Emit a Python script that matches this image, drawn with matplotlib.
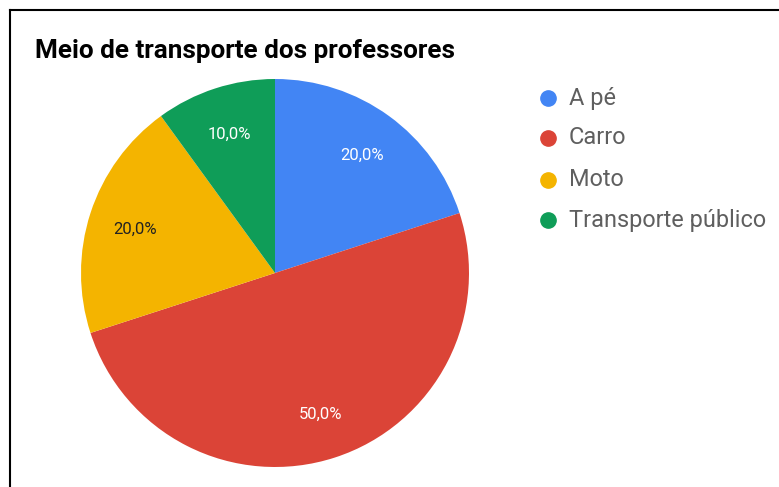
import matplotlib.pyplot as plt
from matplotlib.lines import Line2D

plt.rcParams['font.family'] = ['Roboto', 'DejaVu Sans']

title = 'Meio de transporte dos professores'
labels = ['A pé', 'Carro', 'Moto', 'Transporte público']
values = [20, 50, 20, 10]
colors = ['#4285F4', '#DB4437', '#F4B400', '#0F9D58']
pct_colors = ['white', 'white', '#222222', 'white']

W, H = 779, 487
fig = plt.figure(figsize=(W / 100, H / 100), dpi=100)

# pie axes, square in pixels
cx, cy, r = 275, 273, 194
ax = fig.add_axes([(cx - r) / W, (H - cy - r) / H, 2 * r / W, 2 * r / H])
wedges, texts, autotexts = ax.pie(values, colors=colors, startangle=90, counterclock=False,
                                  autopct=lambda p: f'{p:.1f}%'.replace('.', ','),
                                  pctdistance=0.76, radius=1.0,
                                  wedgeprops=dict(linewidth=0))
for t, c in zip(autotexts, pct_colors):
    t.set_color(c)
    t.set_fontsize(12)
    t.set_va('center_baseline')
ax.set_xlim(-1, 1)
ax.set_ylim(-1, 1)
ax.set_aspect('equal')
ax.axis('off')

fig.text(35 / W, 1 - 51 / H, title, fontsize=18.8, fontweight='bold', color='black',
         va='center', ha='left')

# legend
ys = [98, 138, 180, 220]
for lab, col, y in zip(labels, colors, ys):
    fig.add_artist(Line2D([548 / W], [1 - y / H], marker='o', markersize=11,
                          color=col, linestyle='none'))
    fig.text(569 / W, 1 - y / H, lab, fontsize=16.9, color='#5f5f5f',
             va='center', ha='left')

# frame (left and top edges visible)
fig.add_artist(Line2D([9.5 / W, 9.5 / W], [0, 1 - 10 / H], color='black', linewidth=1.5))
fig.add_artist(Line2D([9.5 / W, 1], [1 - 10 / H, 1 - 10 / H], color='black', linewidth=1.5))

fig.savefig('out.png', dpi=100)
